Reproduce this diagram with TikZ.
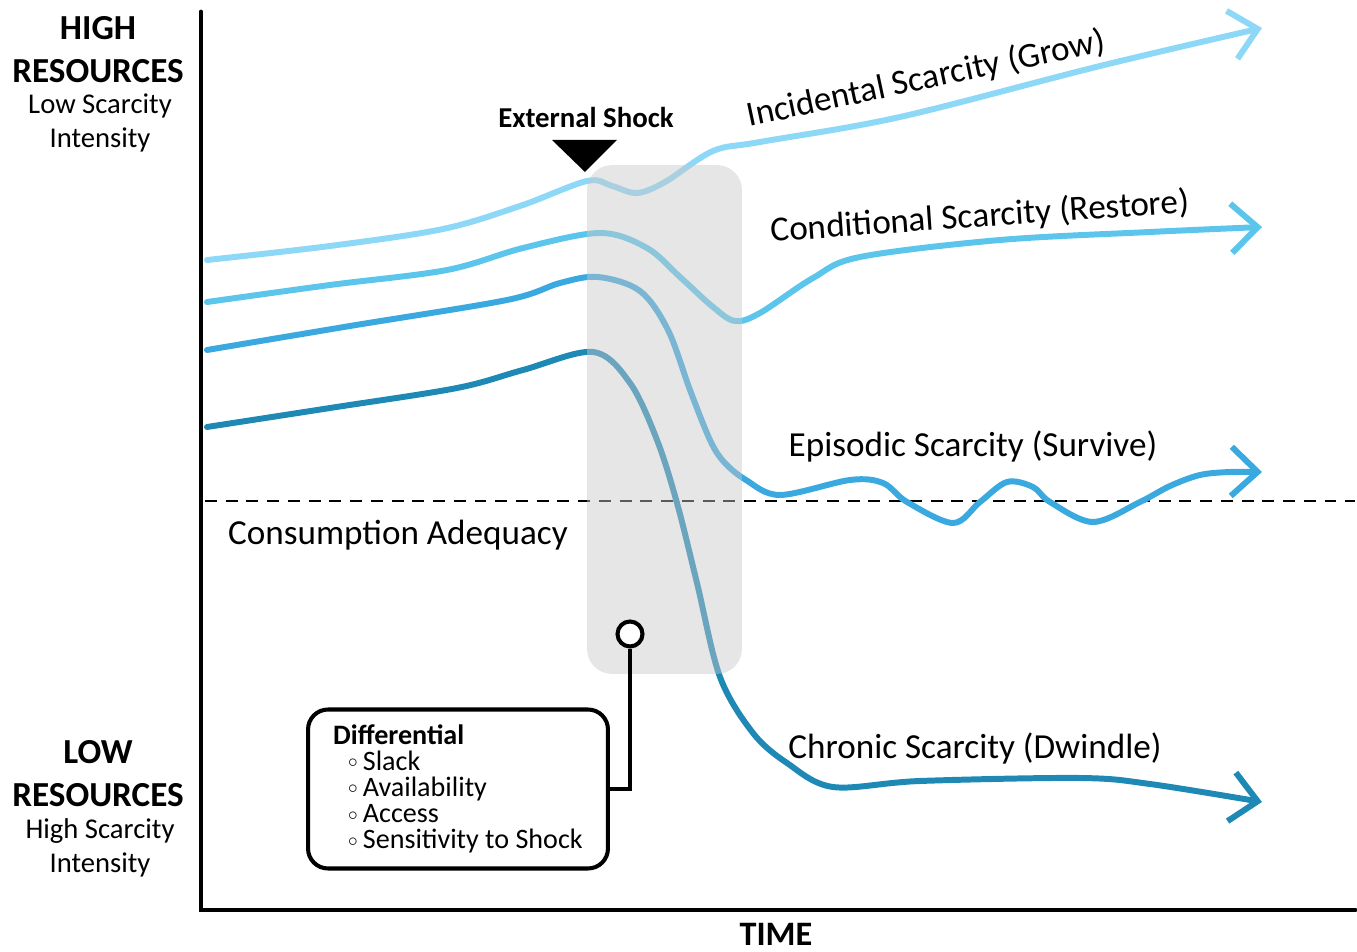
\documentclass[tikz,border=0pt]{standalone}
\usepackage{fontspec}
\setmainfont{Carlito}
\usetikzlibrary{arrows.meta}
\definecolor{cA}{HTML}{8ED8F7}
\definecolor{cB}{HTML}{5CC5EB}
\definecolor{cC}{HTML}{3AA9DF}
\definecolor{cD}{HTML}{1F89B5}
\definecolor{zonegray}{RGB}{200,200,200}
\newcommand{\itm}[1]{\hspace*{0.3cm}\raisebox{0.2ex}{$\scriptstyle\circ$}\hspace{0.1cm}#1}
\begin{document}
\begin{tikzpicture}[x=0.02cm,y=-0.02cm,
  curve/.style={line width=3.4pt, line cap=round,
    -{Straight Barb[length=15pt,width=28pt]}},
  axisline/.style={line width=2.8pt, line cap=round, line join=miter},
  refline/.style={line width=1.3pt, dash pattern=on 6.8pt off 5pt},
  lab/.style={font=\fontsize{20}{24}\selectfont, inner sep=0pt},
  head/.style={font=\bfseries\fontsize{20}{24}\selectfont, inner sep=0pt},
  sub/.style={font=\fontsize{16.3}{19}\selectfont, inner sep=0pt},
  zone/.style={fill=zonegray, fill opacity=0.45, rounded corners=0.5cm,
    minimum width=3.1cm, minimum height=10.18cm, inner sep=0pt},
  callbox/.style={draw, line width=2.3pt, rounded corners=0.4cm,
    minimum width=6cm, minimum height=3.18cm, inner xsep=0.2cm,
    align=left, font=\fontsize{16}{14.9}\selectfont},
  pin/.style={draw, circle, line width=2.3pt, minimum size=0.5cm, inner sep=0pt, fill=white},
  callline/.style={line width=2.3pt}
]
\useasboundingbox (0,0) rectangle (1357,952);

% axes
\coordinate (ytop) at (201,12);
\coordinate (orig) at (201,910);
\coordinate (xend) at (1355,910);
\draw[axisline] (ytop) -- (orig) -- (xend);

% consumption adequacy line
\coordinate (ca0) at (205,501);
\coordinate (ca1) at (1355,501);
\draw[refline] (ca0) -- (ca1);

% curves
\coordinate (i0) at (207,260);
\coordinate (iE) at (1262,28);
\draw[curve, cA] plot[smooth, tension=0.55] coordinates {(i0) (330,246) (443,229) (520,206) (587,181) (612,186) (637,193) (665,182) (713,151) (760,142) (900,117) (1100,66) (iE)};

\coordinate (c0) at (207,302);
\coordinate (cE) at (1262,227);
\draw[curve, cB] plot[smooth, tension=0.55] coordinates {(c0) (330,285) (447,270) (523,248) (600,233) (647,248) (680,277) (713,307) (735,321) (760,313) (813,278) (860,257) (1000,240) (1150,232) (cE)};

\coordinate (e0) at (207,350);
\coordinate (eE) at (1262,472);
\draw[curve, cC] plot[smooth, tension=0.55] coordinates {(e0) (350,326) (507,300) (560,283) (598,277) (640,291) (668,330) (690,390) (710,440) (724,462) (746,480) (780,495) (850,480) (883,483) (907,502) (953,523) (980,502) (1007,482) (1033,487) (1050,502) (1093,522) (1140,502) (1170,486) (1200,475) (1230,472) (eE)};

\coordinate (h0) at (207,427);
\coordinate (hE) at (1262,802);
\draw[curve, cD] plot[smooth, tension=0.55] coordinates {(h0) (330,408) (457,388) (523,370) (593,352) (630,383) (657,440) (677,503) (697,583) (720,677) (753,733) (787,763) (833,787) (920,781) (1080,778) (1150,784) (hE)};

% shock zone
\node[zone] (zone) at (664.5,419.5) {};

% external shock marker
\fill (552,140) -- (617,140) -- (585,172) -- cycle;
\node[font=\bfseries\fontsize{16.4}{19}\selectfont, inner sep=0pt] (shock) at (586,118) {External Shock};

% curve labels
\node[lab, rotate=12] (lInc) at (926,79) {Incidental Scarcity (Grow)};
\node[lab, rotate=4] (lCon) at (980,217) {Conditional Scarcity (Restore)};
\node[lab] (lEpi) at (973,446) {Episodic Scarcity (Survive)};
\node[lab] (lChr) at (975,748) {Chronic Scarcity (Dwindle)};
\node[lab] (lCA) at (398,535) {Consumption Adequacy};

% axis labels
\node[head] (hHigh) at (98,28) {HIGH};
\node[head] (hRes1) at (98,71) {RESOURCES};
\node[sub] (sLow) at (100,106) {Low Scarcity};
\node[sub] (sInt1) at (100,140) {Intensity};
\node[head] (hLow) at (98,752) {LOW};
\node[head] (hRes2) at (98,795) {RESOURCES};
\node[sub] (sHigh) at (100,831) {High Scarcity};
\node[sub] (sInt2) at (100,865) {Intensity};
\node[head, font=\bfseries\fontsize{19.5}{23}\selectfont, anchor=base] (tTime) at (776,946) {TIME};

% callout
\node[pin] (dot) at (630,634) {};
\node[callbox] (diff) at (458,789) {\textbf{Differential}\\
\itm{Slack}\\
\itm{Availability}\\
\itm{Access}\\
\itm{Sensitivity to Shock}};
\draw[callline] (dot.south) |- (diff.east);
\end{tikzpicture}
\end{document}
